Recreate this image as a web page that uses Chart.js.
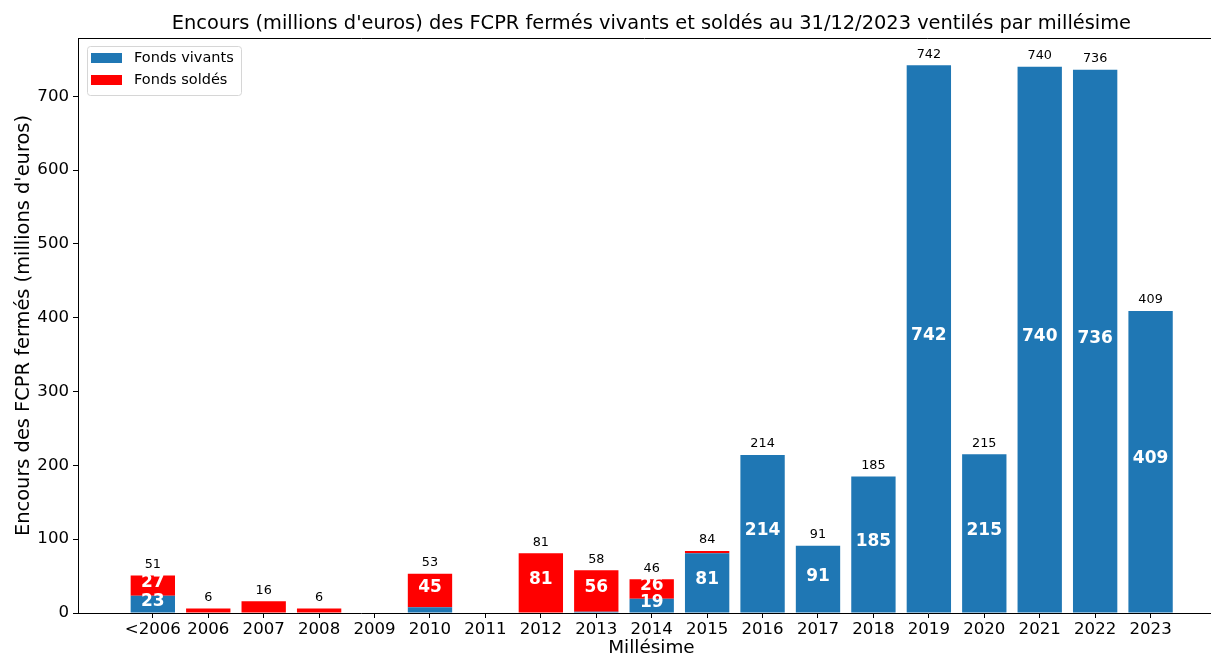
<!DOCTYPE html>
<html>
<head>
<meta charset="utf-8">
<script src="https://cdn.jsdelivr.net/npm/chart.js@4.4.1/dist/chart.umd.min.js"></script>
<style>
    html, body { margin: 0; padding: 0; background: #fff; }
    #wrap { width: 1211px; height: 657px; position: relative; }
</style>
</head>
<body>
<div id="wrap"><canvas id="fcprChart"></canvas></div>
<script>
const categories = ['<2006', '2006', '2007', '2008', '2009', '2010', '2011', '2012', '2013', '2014',
    '2015', '2016', '2017', '2018', '2019', '2020', '2021', '2022', '2023'];
const fondsVivants = [23.4, 0, 0, 0, 0, 7.8, 0, 0, 1.6, 19.4, 81, 214, 91, 185, 742, 215, 740, 736, 409];
const fondsSoldes = [27.4, 6, 16, 6, 0, 45.3, 0, 81, 56.3, 26.4, 3, 0, 0, 0, 0, 0, 0, 0, 0];
const yTicks = [0, 100, 200, 300, 400, 500, 600, 700];

const titleText = "Encours (millions d'euros) des FCPR fermés vivants et soldés au 31/12/2023 ventilés par millésime";
const xTitle = 'Millésime';
const yTitle = "Encours des FCPR fermés (millions d'euros)";
const FONT = "'DejaVu Sans', sans-serif";

// matplotlib keeps the axes 5% wider than the bars; right side is cut off in the picture
const X_MIN = -1.35, X_FULL_MAX = 19.34, X_MAX = 19.09;

// labels, titles and legend drawn on the canvas
const annotate = {
    id: 'annotate',
    afterDatasetsDraw(chart) {
        const ctx = chart.ctx;
        const area = chart.chartArea;
        const xs = chart.scales.x, ys = chart.scales.y;
        ctx.save();

        // values inside segments
        ctx.fillStyle = '#fff';
        ctx.font = `bold 17px ${FONT}`;
        ctx.textAlign = 'center';
        ctx.textBaseline = 'middle';
        chart.data.datasets.forEach((ds, di) => {
            const meta = chart.getDatasetMeta(di);
            meta.data.forEach((bar, i) => {
                const v = ds.data[i].y;
                if (v < 18) return;
                const mid = (bar.y + bar.base) / 2;
                ctx.fillText(Math.round(v), bar.x, mid - 3);
            });
        });

        // totals above bars
        ctx.fillStyle = '#000';
        ctx.font = `12.8px ${FONT}`;
        categories.forEach((c, i) => {
            const total = fondsVivants[i] + fondsSoldes[i];
            if (total <= 0) return;
            ctx.fillText(Math.round(total), xs.getPixelForValue(i), ys.getPixelForValue(total) - 11);
        });

        // titles
        const cx = xs.getPixelForValue((X_MIN + X_FULL_MAX) / 2);
        ctx.font = `19.4px ${FONT}`;
        ctx.fillText(titleText, cx, 24);
        ctx.font = `18.4px ${FONT}`;
        ctx.fillText(xTitle, cx, 648);
        ctx.font = `19.4px ${FONT}`;
        ctx.save();
        ctx.translate(24, (area.top + area.bottom) / 2);
        ctx.rotate(-Math.PI / 2);
        ctx.fillText(yTitle, 0, 0);
        ctx.restore();

        // top spine
        ctx.strokeStyle = '#000';
        ctx.lineWidth = 1;
        ctx.beginPath();
        ctx.moveTo(area.left, area.top + 0.5);
        ctx.lineTo(area.right, area.top + 0.5);
        ctx.stroke();

        // legend box inside the axes
        const lx = area.left + 9, ly = area.top + 8, lw = 154, lh = 49;
        ctx.fillStyle = 'rgba(255,255,255,0.8)';
        ctx.strokeStyle = '#d6d6d6';
        ctx.beginPath();
        ctx.roundRect(lx + 0.5, ly + 0.5, lw, lh, 3);
        ctx.fill();
        ctx.stroke();
        ctx.font = `14.5px ${FONT}`;
        ctx.textAlign = 'left';
        chart.data.datasets.forEach((ds, di) => {
            const rowY = ly + 12 + di * 22;
            ctx.fillStyle = ds.backgroundColor;
            ctx.fillRect(lx + 4, rowY - 5, 31, 10);
            ctx.fillStyle = '#000';
            ctx.fillText(ds.label, lx + 47, rowY);
        });
        ctx.restore();
    }
};

const ctx = document.getElementById('fcprChart').getContext('2d');
new Chart(ctx, {
    type: 'bar',
    data: {
        datasets: [
            {
                label: 'Fonds vivants',
                data: fondsVivants.map((v, i) => ({ x: i, y: v })),
                backgroundColor: '#1f77b4',
                borderWidth: 0
            },
            {
                label: 'Fonds soldés',
                data: fondsSoldes.map((v, i) => ({ x: i, y: v })),
                backgroundColor: '#ff0000',
                borderWidth: 0
            }
        ]
    },
    options: {
        responsive: true,
        maintainAspectRatio: false,
        animation: false,
        barPercentage: 0.8,
        categoryPercentage: 1.0,
        layout: { padding: { top: 38, right: 0, bottom: 0, left: 0 } },
        scales: {
            x: {
                type: 'linear',
                stacked: true,
                offset: false,
                min: X_MIN,
                max: X_MAX,
                afterBuildTicks: s => { s.ticks = categories.map((_, i) => ({ value: i })); },
                afterFit: s => { s.height = 44; },
                grid: { offset: false, drawOnChartArea: false, drawTicks: true, tickLength: 5, color: '#000' },
                border: { display: true, color: '#000', width: 1 },
                ticks: {
                    autoSkip: false,
                    maxRotation: 0,
                    padding: 2,
                    color: '#000',
                    font: { family: FONT, size: 16.6 },
                    callback: v => categories[v]
                }
            },
            y: {
                stacked: true,
                min: 0,
                max: 779,
                afterBuildTicks: s => { s.ticks = yTicks.map(v => ({ value: v })); },
                afterFit: s => { s.width = 78; },
                grid: { drawOnChartArea: false, drawTicks: true, tickLength: 5, color: '#000' },
                border: { display: true, color: '#000', width: 1 },
                ticks: {
                    padding: 4,
                    color: '#000',
                    font: { family: FONT, size: 16.6 }
                }
            }
        },
        plugins: {
            legend: { display: false },
            title: { display: false },
            tooltip: { enabled: false }
        }
    },
    plugins: [annotate]
});
</script>
</body>
</html>
